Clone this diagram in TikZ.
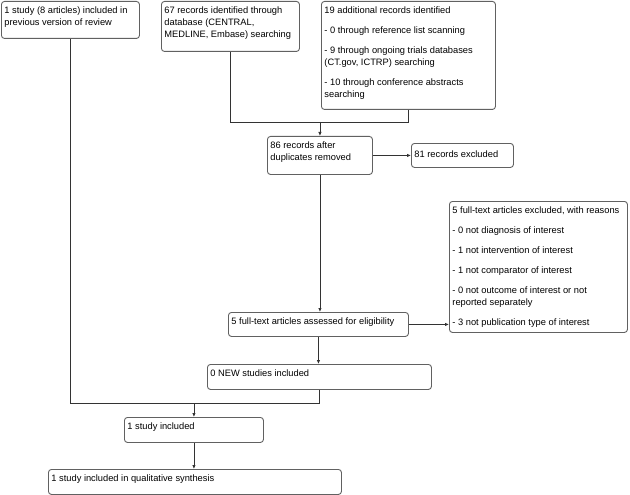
\documentclass[tikz,border=0pt]{standalone}
\usepackage{fontspec}
\setmainfont{Liberation Sans}
\usetikzlibrary{arrows.meta}
\newcommand\bx[3]{\begin{minipage}[t][#2][t]{#1}\fontsize{9.3}{12}\selectfont\leftskip=3pt\rightskip=0pt plus 1fil\parindent=0pt\parskip=8pt\vspace*{5pt}#3\end{minipage}}
\tikzset{
  box/.style={draw=black!62, line width=0.9pt, rounded corners=3pt, inner sep=0pt, anchor=north west, fill=white},
  conn/.style={draw=black!80, line width=0.8pt},
  arr/.style={conn, -{Latex[length=4pt,width=3.5pt]}}
}
\begin{document}
\begin{tikzpicture}[x=1pt,y=-1pt]
\useasboundingbox (0,0) rectangle (630,495);
\node[box] (A) at (1,1) {\bx{138pt}{37pt}{1 study (8 articles) included in\newline previous version of review}};
\node[box] (B) at (161,1) {\bx{138pt}{50pt}{67 records identified through\newline database (CENTRAL,\newline MEDLINE, Embase) searching}};
\node[box] (C) at (321,1) {\bx{174pt}{108pt}{19 additional records identified\par - 0 through reference list scanning\par - 9 through ongoing trials databases\newline (CT.gov, ICTRP) searching\par - 10 through conference abstracts\newline searching}};
\node[box] (D) at (267,136) {\bx{105pt}{38pt}{86 records after\newline duplicates removed}};
\node[box] (E) at (411,143) {\bx{102pt}{24pt}{\vspace*{2pt}81 records excluded}};
\node[box] (F) at (449,201) {\bx{178pt}{131pt}{5 full-text articles excluded, with reasons\par - 0 not diagnosis of interest\par - 1 not intervention of interest\par - 1 not comparator of interest\par - 0 not outcome of interest or not\newline reported separately\par - 3 not publication type of interest}};
\node[box] (G) at (228,312) {\bx{180pt}{24pt}{5 full-text articles assessed for eligibility}};
\node[box] (H) at (207,364) {\bx{224pt}{25pt}{0 NEW studies included}};
\node[box] (I) at (124,417) {\bx{139pt}{25pt}{1 study included}};
\node[box] (J) at (48,469) {\bx{293pt}{25pt}{1 study included in qualitative synthesis}};
\coordinate (m1) at (D.north |- 0,122);
\coordinate (m2) at (I.north |- 0,403);
\draw[conn] (B.south) |- (m1);
\draw[conn] (C.south) |- (m1);
\draw[arr] (m1) -- (D.north);
\draw[arr] (D.east) -- (E.west);
\draw[arr] (D.south) -- (D.south |- G.north);
\draw[arr] (G.east) -- (F.west |- G.east);
\draw[arr] (G.south) -- (G.south |- H.north);
\draw[conn] (A.south) |- (m2);
\draw[conn] (H.south) |- (m2);
\draw[arr] (m2) -- (I.north);
\draw[arr] (I.south) -- (I.south |- J.north);
\end{tikzpicture}
\end{document}
